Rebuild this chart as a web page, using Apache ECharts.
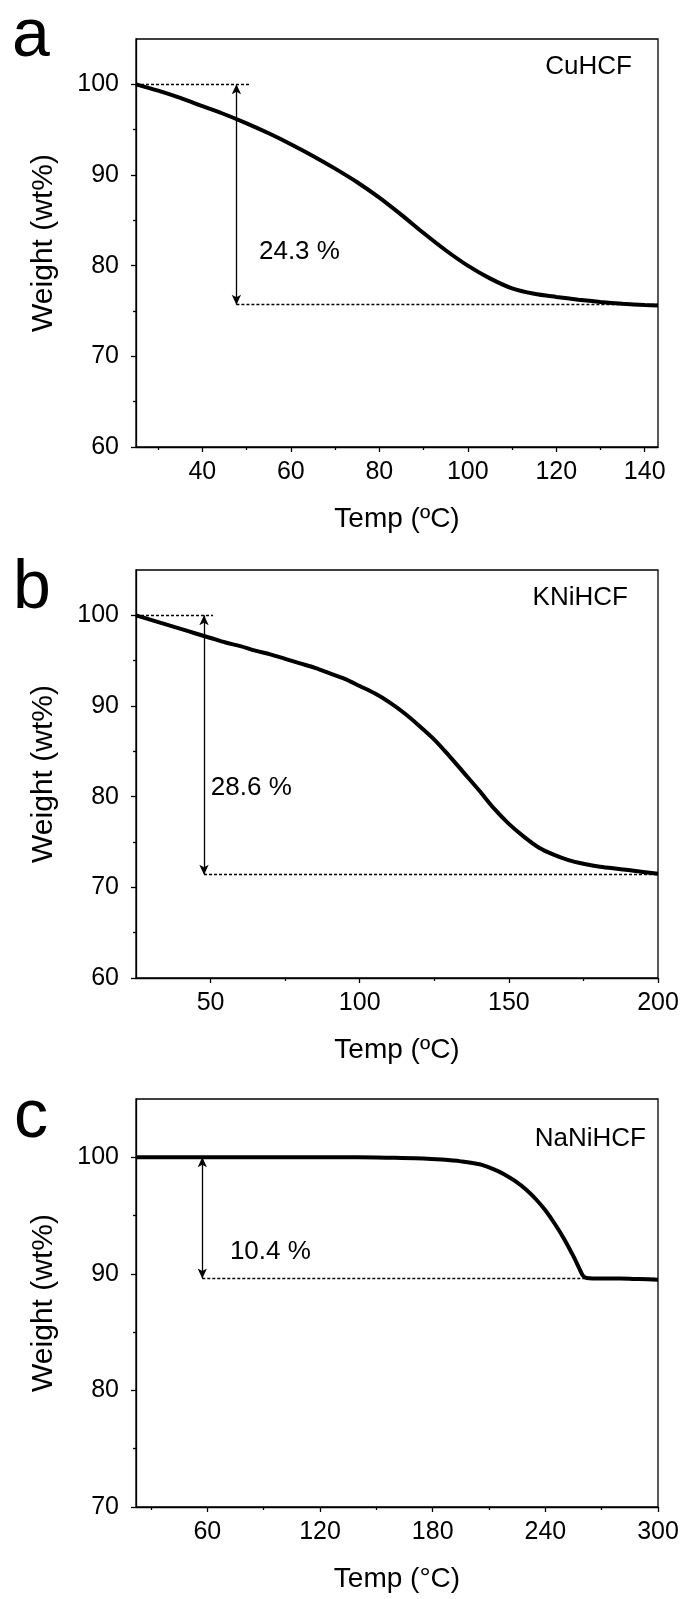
<!DOCTYPE html>
<html><head><meta charset="utf-8">
<script src="https://cdn.jsdelivr.net/npm/echarts@6/dist/echarts.min.js"></script>
<style>html,body{margin:0;padding:0;background:#fff}#c{width:687px;height:1599px}</style>
</head><body><div id="c"></div>
<script>
// ---------- data ----------
// Panel a: CuHCF
const tempA   = [25, 30, 35, 40, 45, 50, 55, 60, 65, 70, 75, 80, 85, 90, 95, 100, 105, 110, 115, 120, 125, 130, 135, 140, 143];
const weightA = [100, 99.3, 98.5, 97.6, 96.7, 95.7, 94.6, 93.4, 92.1, 90.7, 89.2, 87.5, 85.6, 83.6, 81.7, 80.0, 78.6, 77.5, 76.9, 76.55, 76.25, 76.0, 75.8, 75.65, 75.6];
// Panel b: KNiHCF
const tempB   = [25, 30, 35, 40, 45, 50, 55, 60, 65, 70, 75, 80, 85, 90, 95, 100, 105, 110, 115, 120, 125, 130, 135, 140, 145, 150, 155, 160, 165, 170, 175, 180, 185, 190, 195, 200];
const weightB = [100, 99.5, 99.0, 98.5, 98.0, 97.5, 97.0, 96.6, 96.1, 95.7, 95.2, 94.7, 94.2, 93.6, 93.0, 92.2, 91.4, 90.4, 89.2, 87.8, 86.3, 84.5, 82.6, 80.7, 78.7, 77.0, 75.6, 74.4, 73.6, 73.0, 72.6, 72.3, 72.1, 71.9, 71.7, 71.5];
// Panel c: NaNiHCF
const tempC   = [22, 40, 60, 80, 100, 120, 140, 160, 175, 185, 195, 205, 212, 218, 224, 230, 235, 240, 245, 250, 255, 258, 260, 262, 270, 280, 290, 300];
const weightC = [100, 100, 100, 100, 100, 100, 100, 99.95, 99.9, 99.8, 99.65, 99.4, 99.0, 98.55, 97.95, 97.2, 96.4, 95.45, 94.3, 93.0, 91.5, 90.5, 89.85, 89.65, 89.6, 89.6, 89.55, 89.5];

// weight-loss annotations: [arrow temperature, start weight, end weight]
const lossA = [47.7, 100, 75.7];
const lossB = [47.8, 100, 71.4];
const lossC = [57.3, 100, 89.6];
const lossLabels = ['24.3 %', '28.6 %', '10.4 %'];
const sampleNames = ['CuHCF', 'KNiHCF', 'NaNiHCF'];
const panelLetters = ['a', 'b', 'c'];

// axes
const xRanges = [[25, 143], [25, 200], [22, 300]];
const xMajor = [[40, 60, 80, 100, 120, 140], [50, 100, 150, 200], [60, 120, 180, 240, 300]];
const xMinor = [[30, 50, 70, 90, 110, 130], [75, 125, 175], [30, 90, 150, 210, 270]];
const yRanges = [[60, 105], [60, 105], [70, 105]];
const yMajor = [[60, 70, 80, 90, 100], [60, 70, 80, 90, 100], [70, 80, 90, 100]];
const yMinor = [[65, 75, 85, 95], [65, 75, 85, 95], [75, 85, 95]];
const xTitles = ['Temp (\u00BAC)', 'Temp (\u00BAC)', 'Temp (\u00B0C)'];
const yTitle = 'Weight (wt%)';

// ---------- build ----------
const FONT = "'Liberation Sans', Arial, sans-serif";
const tops = [39, 570, 1099];
const grids = [], xAxes = [], yAxes = [], series = [];
const temps = [tempA, tempB, tempC], weights = [weightA, weightB, weightC];
const losses = [lossA, lossB, lossC];
// annotation anchor positions (data coords) for label text
const lossTextPos = [[52.8, 81.5], [50.1, 81.0], [72, 91.9]];
const nameTextPos = [[137.1, 101.9], [189.9, 101.9], [293.6, 101.6]];
const letterPos = [[12, 37.5], [13, 589], [14, 1118]];

for (let i = 0; i < 3; i++) {
  grids.push({left: 136, top: tops[i], width: 522, height: 408, show: true, borderColor: '#000', borderWidth: 1.3, backgroundColor: 'transparent'});
  const axLine = {show: true, lineStyle: {color: '#000', width: 1.3}};
  xAxes.push({
    type: 'value', gridIndex: i, position: 'bottom', min: xRanges[i][0], max: xRanges[i][1],
    axisLine: axLine, splitLine: {show: false},
    axisTick: {show: true, inside: false, length: 5, customValues: xMajor[i], lineStyle: {color: '#000', width: 1.3}},
    axisLabel: {show: true, customValues: xMajor[i], margin: 13, color: '#000', fontSize: 25, fontFamily: FONT},
    name: xTitles[i], nameLocation: 'middle', nameGap: 58,
    nameTextStyle: {color: '#000', fontSize: 28, fontFamily: FONT}
  });
  xAxes.push({
    type: 'value', gridIndex: i, position: 'bottom', min: xRanges[i][0], max: xRanges[i][1],
    axisLine: {show: false}, splitLine: {show: false}, axisLabel: {show: false},
    axisTick: {show: true, inside: false, length: 3, customValues: xMinor[i], lineStyle: {color: '#000', width: 1.3}}
  });
  yAxes.push({
    type: 'value', gridIndex: i, position: 'left', min: yRanges[i][0], max: yRanges[i][1],
    axisLine: axLine, splitLine: {show: false},
    axisTick: {show: true, inside: false, length: 5, customValues: yMajor[i], lineStyle: {color: '#000', width: 1.3}},
    axisLabel: {show: true, customValues: yMajor[i], margin: 17, color: '#000', fontSize: 25, fontFamily: FONT},
    name: yTitle, nameLocation: 'middle', nameGap: 77, nameRotate: 90,
    nameTextStyle: {color: '#000', fontSize: 30, fontFamily: FONT}
  });
  yAxes.push({
    type: 'value', gridIndex: i, position: 'left', min: yRanges[i][0], max: yRanges[i][1],
    axisLine: {show: false}, splitLine: {show: false}, axisLabel: {show: false},
    axisTick: {show: true, inside: false, length: 3, customValues: yMinor[i], lineStyle: {color: '#000', width: 1.3}}
  });

  const L = losses[i];
  const xr = xRanges[i];
  const dotted = {color: '#000', width: 1.3, type: [3, 2]};
  const mlData = [
    [{coord: [L[0], L[2]], symbol: 'none', lineStyle: dotted}, {coord: [xr[1], L[2]], symbol: 'none'}],
    [{coord: [L[0], L[1]], symbol: 'arrow', symbolSize: [7, 10], lineStyle: {color: '#000', width: 1.3, type: 'solid'}},
     {coord: [L[0], L[2]], symbol: 'arrow', symbolSize: [7, 10]}]
  ];
  if (i < 2) {
    mlData.unshift([{coord: [xr[0], L[1]], symbol: 'none', lineStyle: dotted}, {coord: [L[0] + 3, L[1]], symbol: 'none'}]);
  }

  series.push({
    type: 'line', xAxisIndex: 2 * i, yAxisIndex: 2 * i,
    data: temps[i].map((t, k) => [t, weights[i][k]]),
    showSymbol: false, smooth: 0.3,
    lineStyle: {color: '#000', width: 4}, itemStyle: {color: '#000'},
    z: 3, animation: false,
    markLine: {silent: true, animation: false, symbol: 'none', label: {show: false}, data: mlData}
  });
}

const chart = echarts.init(document.getElementById('c'), null, {renderer: 'canvas'});
chart.setOption({
  backgroundColor: '#fff',
  animation: false,
  grid: grids, xAxis: xAxes, yAxis: yAxes, series: series
});

// text annotations placed through the chart's own coordinate conversion
const graphics = [];
for (let i = 0; i < 3; i++) {
  const p1 = chart.convertToPixel({gridIndex: i}, lossTextPos[i]);
  const p2 = chart.convertToPixel({gridIndex: i}, nameTextPos[i]);
  graphics.push({type: 'text', x: p1[0], y: p1[1], silent: true,
    style: {text: lossLabels[i], fontSize: 26, fontFamily: FONT, fill: '#000', verticalAlign: 'middle', align: 'left'}});
  graphics.push({type: 'text', x: p2[0], y: p2[1], silent: true,
    style: {text: sampleNames[i], fontSize: 26, fontFamily: FONT, fill: '#000', verticalAlign: 'middle', align: 'right'}});
  graphics.push({type: 'text', x: letterPos[i][0], y: letterPos[i][1], silent: true,
    style: {text: panelLetters[i], fontSize: 68, fontFamily: FONT, fill: '#000', verticalAlign: 'middle', align: 'left'}});
}
chart.setOption({graphic: graphics});
</script>
</body></html>
